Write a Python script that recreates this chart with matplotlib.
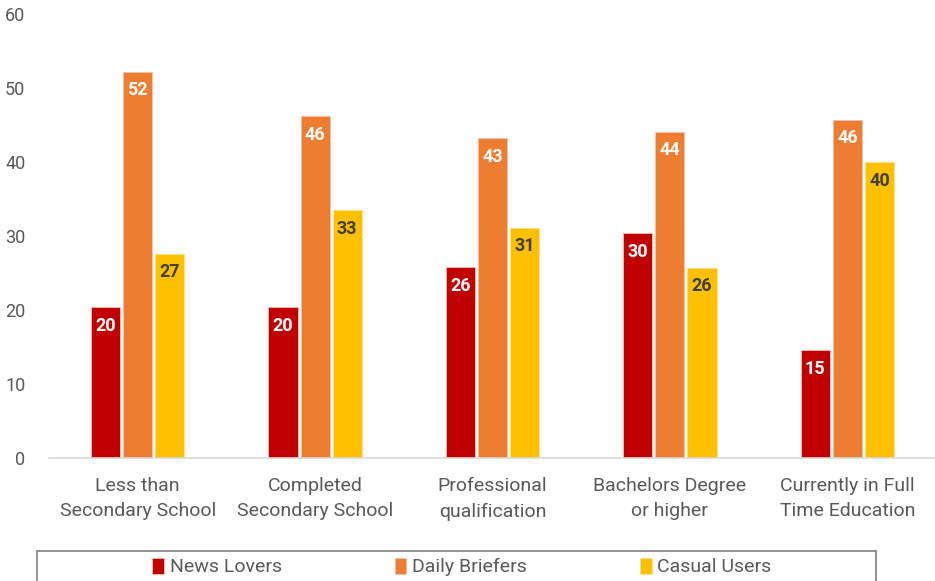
import matplotlib
matplotlib.use("Agg")
import matplotlib.pyplot as plt
from matplotlib.patches import Rectangle
import numpy as np

categories = ["Less than\nSecondary School", "Completed\nSecondary School",
              "Professional\nqualification", "Bachelors Degree\nor higher",
              "Currently in Full\nTime Education"]
series_names = ["News Lovers", "Daily Briefers", "Casual Users"]
news_lovers = [20.4, 20.4, 25.8, 30.4, 14.6]
daily_briefers = [52.2, 46.2, 43.2, 44.1, 45.7]
casual_users = [27.6, 33.5, 31.1, 25.7, 40.0]
labels_news = ["20", "20", "26", "30", "15"]
labels_daily = ["52", "46", "43", "44", "46"]
labels_casual = ["27", "33", "31", "26", "40"]
yticks = [0, 10, 20, 30, 40, 50, 60]

colors = ["#C00000", "#ED7D31", "#FFC000"]
label_colors = ["white", "white", "#404040"]
FONT = ["Roboto", "DejaVu Sans"]
plt.rcParams["font.family"] = FONT

fig = plt.figure(figsize=(9.35, 5.81), dpi=100)
ax = fig.add_axes([49 / 935, 0.2117, 887 / 935, 0.7643])

x = np.arange(len(categories))
w = 0.164
off = 0.181
data = [news_lovers, daily_briefers, casual_users]
labs = [labels_news, labels_daily, labels_casual]
for i, (vals, lab) in enumerate(zip(data, labs)):
    bars = ax.bar(x + (i - 1) * off, vals, w, color=colors[i], label=series_names[i],
                  edgecolor="#f4c0b0" if i < 2 else "#ffe08a", linewidth=0.6)
    for b, t in zip(bars, lab):
        ax.text(b.get_x() + b.get_width() / 2, b.get_height() - 1.3, t,
                ha="center", va="top", color=label_colors[i], fontsize=13,
                fontweight="bold", family=FONT)

ax.set_xlim(-0.5, len(categories) - 0.5)
ax.set_ylim(0, 60)
ax.set_yticks(yticks)
ax.set_yticklabels([str(v) for v in yticks], fontsize=13, color="#595959")
ax.set_xticks(x)
ax.set_xticklabels(categories, fontsize=14, color="#595959", linespacing=1.5)
ax.tick_params(axis="x", length=0, pad=14)
ax.tick_params(axis="y", length=0, pad=17)
for s in ["top", "right", "left"]:
    ax.spines[s].set_visible(False)
ax.spines["bottom"].set_color("#d9d9d9")
ax.spines["bottom"].set_linewidth(1.2)

fig.patches.append(Rectangle((37 / 935, -0.05), (876 - 37) / 935, 0.05 + 30 / 581,
                             transform=fig.transFigure, fill=False,
                             edgecolor="#7f7f7f", linewidth=1.2))
leg = fig.legend(loc="center", bbox_to_anchor=(462 / 935, 1 - 567 / 581), ncol=3,
                 frameon=False, fontsize=14, handlelength=0.6, handleheight=0.9,
                 handletextpad=0.3, columnspacing=5.8, labelcolor="#595959")
fig.savefig("out.png", dpi=100)
